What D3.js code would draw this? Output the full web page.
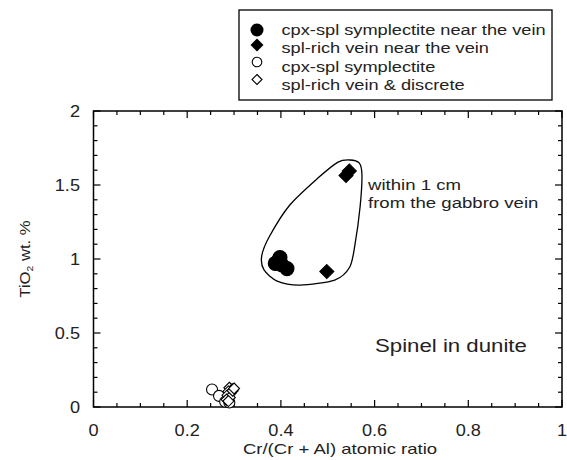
<!DOCTYPE html>
<html><head><meta charset="utf-8">
<script src="https://cdn.jsdelivr.net/npm/d3@7"></script>
<style>body{margin:0;background:#fff}svg{display:block}text{font-family:"Liberation Sans",Arial,sans-serif;fill:#222}</style>
</head><body>
<script>
// ---- data ----
const seriesNames = ["cpx-spl symplectite near the vein","spl-rich vein near the vein","cpx-spl symplectite","spl-rich vein & discrete"];
const nearCircles = [[0.398,1.01],[0.388,0.97],[0.402,0.96],[0.413,0.935],[0.395,0.99]];
const nearDiamonds = [[0.539,1.565],[0.546,1.595],[0.498,0.915]];
const farCircles = [[0.253,0.118],[0.268,0.075],[0.281,0.035],[0.29,0.03]];
const farDiamonds = [[0.29,0.13],[0.296,0.12],[0.288,0.105],[0.293,0.095],[0.286,0.08],[0.291,0.065],[0.284,0.05],[0.297,0.11],[0.3,0.125],[0.288,0.04]];
const outline = [[0.547,1.669],[0.567,1.649],[0.573,1.568],[0.569,1.351],[0.558,1.095],[0.547,0.946],[0.515,0.858],[0.441,0.824],[0.392,0.851],[0.364,0.926],[0.359,1.02],[0.376,1.155],[0.419,1.365],[0.479,1.547],[0.522,1.655]];
const xTicks = [0,0.2,0.4,0.6,0.8,1];
const yTicks = [0,0.5,1,1.5,2];
const xMinor = d3.range(0,1.0001,0.05);
const yMinor = d3.range(0,2.0001,0.1);
const annotation = ["within 1 cm","from the gabbro vein"];
const label = "Spinel in dunite";

const W=567,H=460;
const svg=d3.select("body").append("svg").attr("width",W).attr("height",H);
const L=93.5,R=562,T=111,B=407;
const x=d3.scaleLinear().domain([0,1]).range([L,R]);
const y=d3.scaleLinear().domain([0,2]).range([B,T]);

// horizontally stretched text helper
function stext(parent,tx,ty,size,sx,anchor,txt,rot){
  const g=parent.append("g").attr("transform",`translate(${tx},${ty})${rot?` rotate(${rot})`:""} scale(${sx},1)`);
  return g.append("text").attr("text-anchor",anchor||"start").attr("font-size",size).text(txt);
}

// frame
svg.append("rect").attr("x",L).attr("y",T).attr("width",R-L).attr("height",B-T).attr("fill","none").attr("stroke","#000").attr("stroke-width",1.5);

// ticks
const g=svg.append("g").attr("stroke","#000").attr("stroke-width",1.2);
xMinor.forEach(v=>{const major=Math.abs(v*5-Math.round(v*5))<1e-6;const len=major?7:4;
  g.append("line").attr("x1",x(v)).attr("x2",x(v)).attr("y1",B).attr("y2",B-len);
  g.append("line").attr("x1",x(v)).attr("x2",x(v)).attr("y1",T).attr("y2",T+len);});
yMinor.forEach(v=>{const major=Math.abs(v*2-Math.round(v*2))<1e-6;const len=major?7:4;
  g.append("line").attr("y1",y(v)).attr("y2",y(v)).attr("x1",L).attr("x2",L+len);
  g.append("line").attr("y1",y(v)).attr("y2",y(v)).attr("x1",R).attr("x2",R-len);});

xTicks.forEach(v=>stext(svg,x(v),436,16.5,1.1,"middle",d3.format("")(v)));
yTicks.forEach(v=>stext(svg,80,y(v)+6,16.5,1.1,"end",d3.format("")(v)));

stext(svg,340,454,14.5,1.28,"middle","Cr/(Cr + Al) atomic ratio");
const yt=stext(svg,30,(T+B)/2,14.5,1.15,"middle","",-90);
yt.append("tspan").text("TiO");
yt.append("tspan").attr("font-size",9).attr("dy",3).text("2");
yt.append("tspan").attr("dy",-3).text(" wt. %");

// outline
svg.append("path").datum(outline).attr("d",d3.line().x(d=>x(d[0])).y(d=>y(d[1])).curve(d3.curveCardinalClosed.tension(0.2)))
  .attr("fill","none").attr("stroke","#000").attr("stroke-width",1.3);

// markers
const diamond=(s)=>`M0,${-s}L${s},0L0,${s}L${-s},0Z`;
function circles(data,r,filled){svg.append("g").selectAll("circle").data(data).join("circle").attr("cx",d=>x(d[0])).attr("cy",d=>y(d[1])).attr("r",r)
  .attr("fill",filled?"#000":"#fff").attr("stroke","#000").attr("stroke-width",1.1);}
function diamonds(data,s,filled){svg.append("g").selectAll("path").data(data).join("path").attr("transform",d=>`translate(${x(d[0])},${y(d[1])})`).attr("d",diamond(s))
  .attr("fill",filled?"#000":"#fff").attr("stroke","#000").attr("stroke-width",1.1);}
circles(farCircles,5.5,false);
diamonds(farDiamonds,5.5,false);
circles(nearCircles,7,true);
diamonds(nearDiamonds,7,true);

// annotations
annotation.forEach((t,i)=>stext(svg,368,190+i*18,15,1.24,"start",t));
stext(svg,375,352,19,1.17,"start",label);

// legend
svg.append("rect").attr("x",239).attr("y",10).attr("width",313).attr("height",90).attr("fill","#fff").attr("stroke","#000").attr("stroke-width",1.3);
const mk=[30,45,62,79.5];
const tb=[35,53.3,71.7,90];
const lg=svg.append("g");
lg.append("circle").attr("cx",257).attr("cy",mk[0]).attr("r",6.5).attr("fill","#000");
lg.append("path").attr("transform",`translate(257,${mk[1]})`).attr("d",diamond(6.5)).attr("fill","#000");
lg.append("circle").attr("cx",257).attr("cy",mk[2]).attr("r",4.8).attr("fill","#fff").attr("stroke","#000").attr("stroke-width",1.1);
lg.append("path").attr("transform",`translate(257,${mk[3]})`).attr("d",diamond(5)).attr("fill","#fff").attr("stroke","#000").attr("stroke-width",1.1);
seriesNames.forEach((t,i)=>stext(lg,281.5,tb[i],15.5,1.175,"start",t));
</script>
</body></html>
